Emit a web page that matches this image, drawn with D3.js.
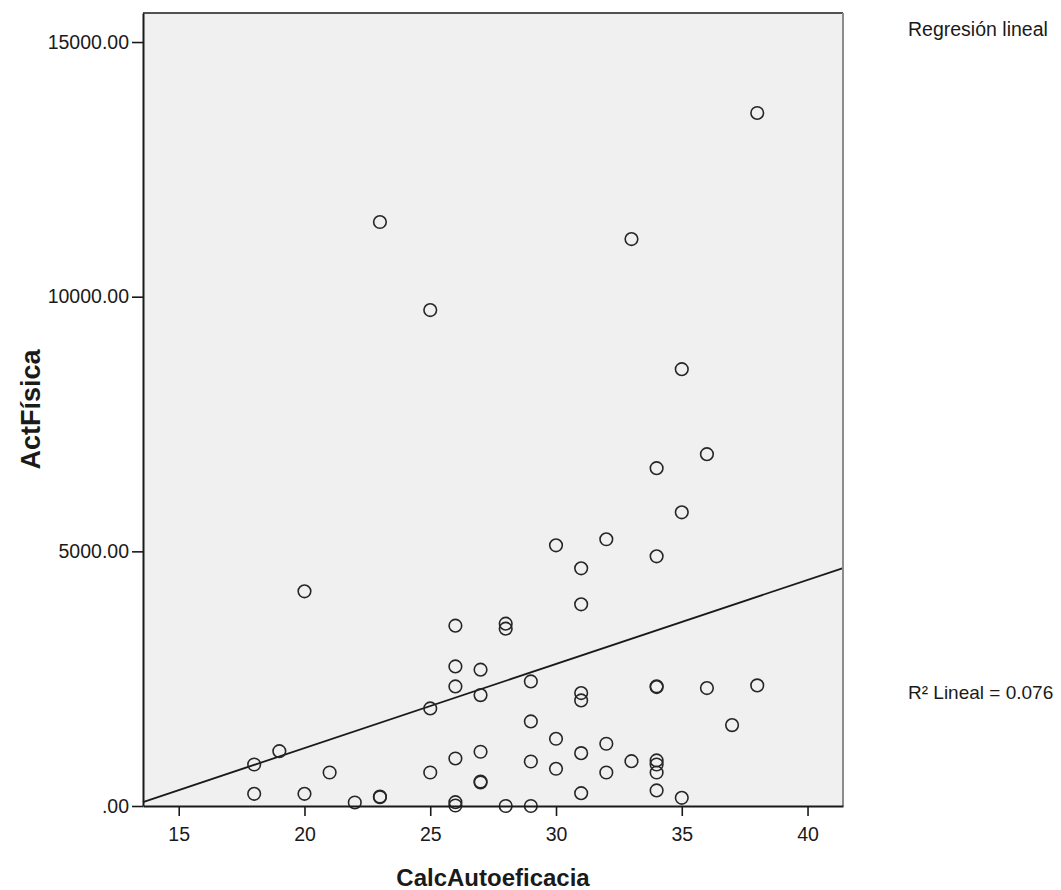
<!DOCTYPE html>
<html>
<head>
<meta charset="utf-8">
<script src="https://cdn.jsdelivr.net/npm/d3@7"></script>
<style>
  body { margin: 0; background: #fff; }
  text { font-family: "Liberation Sans", Arial, sans-serif; fill: #1a1a1a; }
</style>
</head>
<body>
<div id="chart"></div>
<script>
// Data: self-efficacy score vs physical activity
const calcAutoeficacia = [18, 18, 19, 20, 20, 21, 22, 23, 23, 23,
    25, 25, 25, 26, 26, 26, 26, 26, 26, 27, 27, 27, 27, 27,
    28, 28, 28, 29, 29, 29, 29, 30, 30, 30,
    31, 31, 31, 31, 31, 31, 32, 32, 32, 33, 33,
    34, 34, 34, 34, 34, 34, 34, 34, 35, 35, 35, 36, 36, 37, 38, 38];
const actFisica = [815, 240, 1077, 4215, 240, 658, 69, 11466, 173, 185,
    9737, 1916, 658, 3541, 2741, 2348, 933, 75, 10, 2676, 2177, 1065, 462, 480,
    3580, 3482, 0, 2446, 1660, 874, 0, 5119, 1320, 731,
    4667, 3960, 2217, 2073, 1038, 252, 5237, 1222, 658, 11132, 880,
    6632, 4903, 2335, 2350, 894, 815, 658, 305, 8577, 5767, 161, 6907, 2315, 1588, 13607, 2368];
const xTicks = [15, 20, 25, 30, 35, 40];
const yTicks = [0, 5000, 10000, 15000];
const r2Label = "R\u00B2 Lineal = 0.076";

let margin = {top: 13, right: 218, bottom: 84, left: 143};
let width = 1061 - margin.left - margin.right;
let height = 890 - margin.top - margin.bottom;

let root = d3.select("#chart")
    .append("svg")
    .attr("width", 1061)
    .attr("height", 890);

let svg = root.append("g")
    .attr("transform", `translate(${margin.left}, ${margin.top})`);

const x = d3.scaleLinear().domain([13.58, 41.41]).range([0, width]);
const y = d3.scaleLinear().domain([0, 15570]).range([height, 0]);

// Plot background
svg.append("rect")
    .attr("width", width)
    .attr("height", height)
    .attr("fill", "#f0f0f0");

// Least squares line
const n = calcAutoeficacia.length;
const mx = d3.mean(calcAutoeficacia);
const my = d3.mean(actFisica);
let sxy = 0, sxx = 0;
for (let i = 0; i < n; i++) {
    sxy += (calcAutoeficacia[i] - mx) * (actFisica[i] - my);
    sxx += (calcAutoeficacia[i] - mx) ** 2;
}
const slope = sxy / sxx;
const intercept = my - slope * mx;
const [x0, x1] = x.domain();

svg.append("line")
    .attr("x1", x(x0)).attr("y1", y(intercept + slope * x0))
    .attr("x2", x(x1)).attr("y2", y(intercept + slope * x1))
    .attr("stroke", "#1a1a1a")
    .attr("stroke-width", 1.8);

// Points
svg.selectAll(".dot")
    .data(calcAutoeficacia.map((d, i) => ({x: d, y: actFisica[i]})))
    .enter()
    .append("circle")
    .attr("class", "dot")
    .attr("cx", d => x(d.x))
    .attr("cy", d => y(d.y))
    .attr("r", 6.3)
    .attr("fill", "none")
    .attr("stroke", "#262626")
    .attr("stroke-width", 1.6);

// Frame: top black, right grey
svg.append("line")
    .attr("x1", 0).attr("x2", width).attr("y1", 0).attr("y2", 0)
    .attr("stroke", "#1a1a1a").attr("stroke-width", 1.5);
svg.append("line")
    .attr("x1", width).attr("x2", width).attr("y1", 0).attr("y2", height)
    .attr("stroke", "#8c8c8c").attr("stroke-width", 2);

// Axes
const yFormat = d => d === 0 ? ".00" : d3.format(".2f")(d);

let xAxis = svg.append("g")
    .attr("transform", `translate(0, ${height})`)
    .call(d3.axisBottom(x).tickValues(xTicks).tickSize(10).tickPadding(11).tickSizeOuter(0));

let yAxis = svg.append("g")
    .call(d3.axisLeft(y).tickValues(yTicks).tickFormat(yFormat).tickSize(11).tickPadding(3).tickSizeOuter(0));

[xAxis, yAxis].forEach(a => {
    a.select(".domain").attr("stroke", "#1a1a1a").attr("stroke-width", 2);
    a.selectAll(".tick line").attr("stroke", "#1a1a1a").attr("stroke-width", 1.6);
    a.selectAll("text")
        .style("font-size", "19.5px")
        .style("font-family", "'Liberation Sans', Arial, sans-serif")
        .attr("fill", "#1a1a1a");
});

// Axis titles
root.append("text")
    .attr("x", margin.left + width / 2)
    .attr("y", 886)
    .style("text-anchor", "middle")
    .style("font-size", "24px")
    .style("font-weight", "bold")
    .text("CalcAutoeficacia");

root.append("text")
    .attr("transform", `translate(40, ${margin.top + height / 2}) rotate(-90)`)
    .style("text-anchor", "middle")
    .style("font-size", "27px")
    .style("font-weight", "bold")
    .text("ActFísica");

// Right side notes
root.append("text")
    .attr("x", 908)
    .attr("y", 36)
    .style("font-size", "19.5px")
    .text("Regresión lineal");

root.append("text")
    .attr("x", 908)
    .attr("y", 699)
    .style("font-size", "19px")
    .text(r2Label);
</script>
</body>
</html>
